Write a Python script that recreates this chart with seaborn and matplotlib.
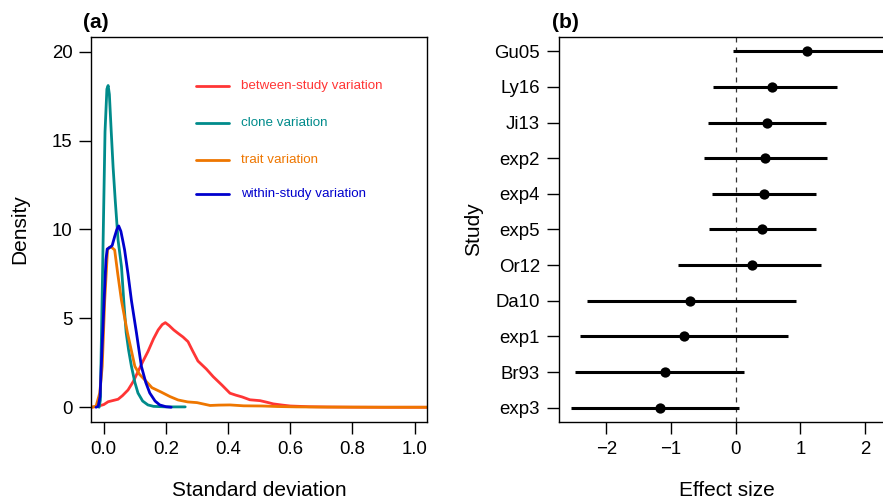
import numpy as np
import pandas as pd
import matplotlib
matplotlib.use("Agg")
import matplotlib.pyplot as plt
import seaborn as sns

# =========================
# panel (a): posterior densities of the standard deviations
# =========================
between_x = [-0.041, -0.02, 0.0, 0.014, 0.03, 0.046, 0.06, 0.078, 0.095, 0.11, 0.125, 0.142,
             0.16, 0.175, 0.188, 0.198, 0.21, 0.225, 0.239, 0.255, 0.271, 0.285, 0.303, 0.33,
             0.352, 0.38, 0.406, 0.425, 0.445, 0.47, 0.503, 0.525, 0.545, 0.575, 0.6, 0.63,
             0.66, 0.72, 0.8, 0.9, 1.04]
between_y = [0, 0.05, 0.15, 0.31, 0.38, 0.45, 0.65, 0.97, 1.45, 2.0, 2.55, 3.13,
             3.85, 4.35, 4.65, 4.76, 4.6, 4.35, 4.16, 3.95, 3.69, 3.2, 2.6, 2.15,
             1.72, 1.25, 0.79, 0.68, 0.58, 0.42, 0.37, 0.28, 0.19, 0.12, 0.07, 0.05,
             0.03, 0.015, 0.005, 0, 0]

clone_x = [-0.015, -0.011, -0.008, -0.002, 0.004, 0.010, 0.014, 0.018, 0.024, 0.030, 0.037,
           0.046, 0.057, 0.065, 0.072, 0.080, 0.089, 0.100, 0.110, 0.125, 0.142, 0.160,
           0.200, 0.262]
clone_y = [0, 0.4, 3.5, 9.5, 15.5, 17.9, 18.1, 17.6, 15.5, 13.5, 11.6,
           9.4, 7.9, 5.8, 4.2, 3.2, 2.3, 1.4, 0.8, 0.35, 0.13, 0.05,
           0.02, 0.02]

trait_x = [-0.041, -0.025, -0.013, -0.005, 0.003, 0.012, 0.018, 0.025, 0.035, 0.045, 0.057,
           0.076, 0.100, 0.115, 0.132, 0.155, 0.185, 0.213, 0.239, 0.270, 0.300, 0.342,
           0.370, 0.406, 0.45, 0.51, 0.56, 0.62, 0.7, 0.8, 0.9, 1.04]
trait_y = [0, 0.05, 0.8, 2.3, 6.0, 8.85, 9.0, 9.0, 8.85, 7.5, 6.0,
           4.2, 2.3, 1.85, 1.54, 1.1, 0.85, 0.6, 0.41, 0.3, 0.26, 0.1,
           0.12, 0.13, 0.08, 0.07, 0.04, 0.02, 0.01, 0.005, 0, 0]

within_x = [-0.025, -0.018, -0.012, -0.008, 0.001, 0.007, 0.011, 0.020, 0.027, 0.035, 0.042,
            0.048, 0.055, 0.062, 0.067, 0.078, 0.089, 0.105, 0.121, 0.135, 0.148, 0.165,
            0.180, 0.200, 0.217]
within_y = [0, 0.05, 0.6, 2.3, 6.0, 8.3, 8.9, 9.0, 9.1, 9.6, 10.0,
            10.2, 9.9, 9.3, 8.85, 7.5, 6.0, 4.2, 2.3, 1.4, 0.8, 0.35,
            0.13, 0.03, 0.0]

series_names = ["between-study variation", "clone variation",
                "trait variation", "within-study variation"]
series_colors = ["#FF3535", "#008B8B", "#EE7600", "#0000CD"]
legend_y = [18.07, 15.98, 13.89, 11.97]

# =========================
# panel (b): study effect sizes with intervals
# =========================
studies = ["Gu05", "Ly16", "Ji13", "exp2", "exp4", "exp5", "Or12", "Da10", "exp1", "Br93", "exp3"]
effect = [1.10, 0.566, 0.479, 0.458, 0.432, 0.411, 0.257, -0.702, -0.804, -1.093, -1.175]
ci_low = [-0.04, -0.356, -0.423, -0.495, -0.366, -0.408, -0.892, -2.294, -2.40, -2.48, -2.55]
ci_high = [2.35, 1.56, 1.39, 1.41, 1.24, 1.246, 1.318, 0.937, 0.804, 0.124, 0.051]

# =========================
# estilo
# =========================
sns.set_style("ticks")
plt.rcParams["font.family"] = ["Liberation Sans", "DejaVu Sans"]
plt.rcParams["axes.linewidth"] = 1.0
for chave in ["text.color", "axes.labelcolor", "xtick.color", "ytick.color", "axes.edgecolor"]:
    plt.rcParams[chave] = "black"

fig = plt.figure(figsize=(8.83, 5.04), dpi=100)
ax1 = fig.add_axes([0.1031, 0.1627, 0.3805, 0.7639])
ax2 = fig.add_axes([0.6327, 0.1627, 0.3805, 0.7639])

curvas = [(between_x, between_y), (clone_x, clone_y), (trait_x, trait_y), (within_x, within_y)]
for (xs, ys), cor in zip(curvas, series_colors):
    sns.lineplot(x=xs, y=ys, sort=False, color=cor, linewidth=2.0, ax=ax1)

# legenda desenhada como no original (linhas + texto colorido)
for nome, cor, ly in zip(series_names, series_colors, legend_y):
    ax1.plot([0.296, 0.403], [ly, ly], color=cor, linewidth=2.0)
    ax1.text(0.44, ly, nome, color=cor, fontsize=9.6, va="center", ha="left")

ax1.set_xlim(-0.041, 1.04)
ax1.set_ylim(-0.83, 20.83)
ax1.set_xticks([0.0, 0.2, 0.4, 0.6, 0.8, 1.0])
ax1.set_xticklabels(["0.0", "0.2", "0.4", "0.6", "0.8", "1.0"])
ax1.set_yticks([0, 5, 10, 15, 20])
ax1.set_xlabel("Standard deviation", fontsize=15, labelpad=17)
ax1.set_ylabel("Density", fontsize=15, labelpad=16)
ax1.text(-0.024, 1.023, "(a)", transform=ax1.transAxes, fontsize=15,
         fontweight="bold", ha="left", va="baseline")

# forest plot
ax2.axvline(0, color="#333333", linewidth=0.9, linestyle=(0, (4, 4)))
ax2.hlines(studies, ci_low, ci_high, color="black", linewidth=2.2)
sns.scatterplot(x=effect, y=studies, color="black", s=55, edgecolor="black",
                linewidth=0, zorder=3, ax=ax2)
ax2.set_xlim(-2.736, 2.457)
ax2.set_ylim(10.4, -0.4)
ax2.set_xticks([-2, -1, 0, 1, 2])
ax2.set_xticklabels(["\u22122", "\u22121", "0", "1", "2"])
ax2.set_xlabel("Effect size", fontsize=15, labelpad=17)
ax2.set_ylabel("Study", fontsize=15, labelpad=8)
ax2.text(-0.021, 1.023, "(b)", transform=ax2.transAxes, fontsize=15,
         fontweight="bold", ha="left", va="baseline")

for ax in (ax1, ax2):
    ax.tick_params(direction="out", length=8.4, width=1.0, labelsize=13.4, pad=5, colors="black")
    for s in ax.spines.values():
        s.set_visible(True)
        s.set_linewidth(1.0)
        s.set_color("black")

fig.savefig("out.png", dpi=100)
